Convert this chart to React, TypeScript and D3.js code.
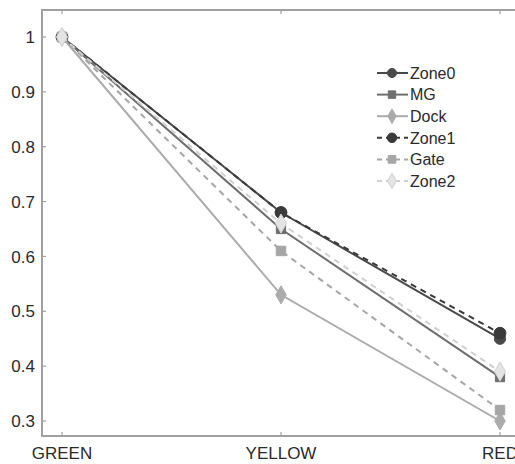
import React from "react";
import * as d3 from "d3";

const categories = ["GREEN", "YELLOW", "RED"];
const seriesNames = ["Zone0", "MG", "Dock", "Zone1", "Gate", "Zone2"];
const zone0 = [1, 0.68, 0.45];
const mg = [1, 0.65, 0.38];
const dock = [1, 0.53, 0.3];
const zone1 = [1, 0.68, 0.46];
const gate = [1, 0.61, 0.32];
const zone2 = [1, 0.66, 0.39];
const yTicks = [0.3, 0.4, 0.5, 0.6, 0.7, 0.8, 0.9, 1];

type Style = { stroke: string; fill: string; dash: string | null; shape: string; size: number };
const styles: Style[] = [
  { stroke: "#4a4a4a", fill: "#4a4a4a", dash: null, shape: "circle", size: 100 },
  { stroke: "#6e6e6e", fill: "#6e6e6e", dash: null, shape: "square", size: 85 },
  { stroke: "#ababab", fill: "#ababab", dash: null, shape: "diamond", size: 95 },
  { stroke: "#3a3a3a", fill: "#3a3a3a", dash: "6,5", shape: "circle", size: 110 },
  { stroke: "#a6a6a6", fill: "#a6a6a6", dash: "6,5", shape: "square", size: 90 },
  { stroke: "#d0d0d0", fill: "#e4e4e4", dash: "6,5", shape: "diamond", size: 105 },
];
const allValues = [zone0, mg, dock, zone1, gate, zone2];

const symbolFor = (shape: string) =>
  shape === "circle" ? d3.symbolCircle : shape === "square" ? d3.symbolSquare : d3.symbolDiamond;

export default function App() {
  const W = 515, H = 464;
  const left = 42, top = 10, bottom = 436, right = 560;
  const x = d3.scaleLinear().domain([0, 2]).range([62, 500]);
  const y = d3.scaleLinear().domain([0.3, 1]).range([421, 37]);
  const line = d3.line<number>().x((_, i) => x(i)).y((d) => y(d));
  const axisColor = "#a0a0a0";
  const font = "Liberation Sans, Arial, sans-serif";

  const legendX = 377, legendY0 = 73, legendDy = 21.6;

  return (
    <svg width={W} height={H} style={{ position: "absolute", left: 0, top: 0, background: "#fff" }}>
      {allValues.map((vals, si) => {
        const s = styles[si];
        return (
          <g key={si}>
            <path d={line(vals) || ""} fill="none" stroke={s.stroke} strokeWidth={2}
              strokeDasharray={s.dash || undefined} />
            {vals.map((v, i) => (
              <path key={i} transform={`translate(${x(i)},${y(v)})`}
                d={d3.symbol().type(symbolFor(s.shape)).size(s.size)() || ""}
                fill={s.fill} stroke={s.stroke} strokeWidth={1} />
            ))}
          </g>
        );
      })}
      <rect x={left} y={top} width={right - left} height={bottom - top} fill="none" stroke={axisColor} strokeWidth={2} />
      {yTicks.map((t) => (
        <g key={t}>
          <line x1={left} x2={left + 4} y1={y(t)} y2={y(t)} stroke={axisColor} strokeWidth={1.2} />
          <text x={35} y={y(t)} dy="0.36em" textAnchor="end" fontFamily={font} fontSize={17} fill="#2a2a2a">
            {d3.format("")(t)}
          </text>
        </g>
      ))}
      {categories.map((c, i) => (
        <g key={c}>
          <line x1={x(i)} x2={x(i)} y1={bottom} y2={bottom - 4} stroke={axisColor} strokeWidth={1.2} />
          <line x1={x(i)} x2={x(i)} y1={top} y2={top + 4} stroke={axisColor} strokeWidth={1.2} />
          <text x={x(i)} y={459} textAnchor="middle" fontFamily={font} fontSize={17} fill="#2a2a2a">{c}</text>
        </g>
      ))}
      {seriesNames.map((n, i) => {
        const s = styles[i];
        const ly = legendY0 + i * legendDy;
        return (
          <g key={n}>
            <line x1={legendX} x2={legendX + 31} y1={ly} y2={ly} stroke={s.stroke} strokeWidth={2}
              strokeDasharray={s.dash ? "5,4" : undefined} />
            <path transform={`translate(${legendX + 15},${ly})`}
              d={d3.symbol().type(symbolFor(s.shape)).size(s.size * 0.65)() || ""}
              fill={s.fill} stroke={s.stroke} strokeWidth={1} />
            <text x={legendX + 33} y={ly} dy="0.36em" fontFamily={font} fontSize={16} fill="#2a2a2a">{n}</text>
          </g>
        );
      })}
    </svg>
  );
}
